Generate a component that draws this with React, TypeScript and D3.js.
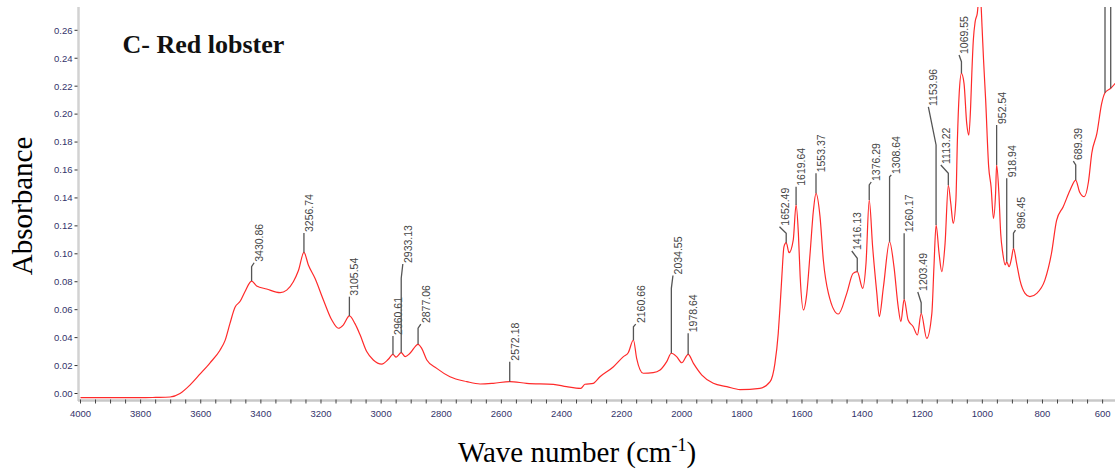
import React from "react";
import * as d3 from "d3";

// FTIR spectrum (wavenumber in cm-1, absorbance)
const waveNumbers = [
  4000, 3900, 3800, 3750, 3702, 3669, 3636, 3602, 3569, 3536, 3519, 3503, 3486, 3469, 3453,
  3430.86, 3414, 3381, 3336, 3314, 3292, 3275, 3256.74, 3242, 3220, 3192, 3164, 3142, 3126,
  3105.54, 3087, 3070, 3048, 3026, 2998, 2976, 2960.61, 2950, 2933.13, 2920, 2904, 2877.06,
  2865, 2848, 2815, 2771, 2715, 2671, 2627, 2572.18, 2516, 2427, 2383, 2336, 2322, 2294, 2272,
  2228, 2194, 2178, 2160.66, 2150, 2128, 2095, 2072, 2050, 2034.55, 2017, 2000, 1978.64, 1961,
  1933, 1895, 1850, 1806, 1740, 1706, 1690, 1679, 1673, 1667, 1660, 1652.49, 1643, 1629,
  1619.64, 1612, 1606, 1595, 1584, 1573, 1562, 1553.37, 1540, 1529, 1512, 1479, 1451, 1430,
  1416.13, 1398, 1387, 1376.29, 1365, 1351, 1343, 1329, 1308.64, 1294, 1280, 1271, 1260.17,
  1247, 1230, 1216, 1203.49, 1185, 1168, 1161, 1153.96, 1144, 1135, 1124, 1113.22, 1105, 1097,
  1088, 1083, 1077, 1069.55, 1061, 1052, 1045, 1039, 1035, 1030, 1024, 1017, 1010, 1005, 1001,
  996, 989, 979, 971, 963, 956, 952.54, 945, 939, 932, 924, 918.94, 911, 903, 896.45, 886, 875,
  858, 842, 819, 792, 770, 753, 731, 708, 689.39, 677, 661, 647, 636, 619, 603, 592, 573, 558,
  550,
];
const absorbance = [
  -0.003, -0.003, -0.003, -0.0028, -0.0025, 0.0, 0.006, 0.014, 0.022, 0.031, 0.038, 0.05,
  0.0617, 0.066, 0.0729, 0.0805, 0.077, 0.0748, 0.0722, 0.074, 0.08, 0.088, 0.101, 0.092,
  0.0825, 0.067, 0.0526, 0.0467, 0.049, 0.0555, 0.05, 0.042, 0.03, 0.024, 0.0211, 0.0245,
  0.028, 0.026, 0.0292, 0.0264, 0.0288, 0.0352, 0.0323, 0.024, 0.018, 0.012, 0.0085, 0.0068,
  0.0073, 0.0085, 0.0073, 0.0066, 0.0049, 0.0037, 0.0066, 0.0073, 0.012, 0.019, 0.0264,
  0.0292, 0.0383, 0.0252, 0.0145, 0.0149, 0.0168, 0.0228, 0.0288, 0.0264, 0.022, 0.028,
  0.0216, 0.0132, 0.0073, 0.0049, 0.0028, 0.0037, 0.0085, 0.0216, 0.043, 0.062, 0.0836,
  0.105, 0.108, 0.1008, 0.11, 0.135, 0.1147, 0.0836, 0.0598, 0.0717, 0.1004, 0.131, 0.1433,
  0.1266, 0.0956, 0.0717, 0.0569, 0.0717, 0.086, 0.0872, 0.0753, 0.0932, 0.1385, 0.105,
  0.0717, 0.055, 0.0764, 0.1087, 0.0908, 0.0621, 0.0514, 0.0674, 0.0526, 0.0478, 0.0419,
  0.0574, 0.0395, 0.0574, 0.0908, 0.1206, 0.1004, 0.0872, 0.1075, 0.149, 0.136, 0.1218,
  0.1385, 0.1815, 0.2149, 0.2292, 0.222, 0.1934, 0.185, 0.2053, 0.2292, 0.253, 0.266, 0.272,
  0.285, 0.28, 0.2626, 0.2387, 0.21, 0.1624, 0.148, 0.1254, 0.1433, 0.1636, 0.1433, 0.1147,
  0.1004, 0.092, 0.0943, 0.0908, 0.0968, 0.1039, 0.0932, 0.0812, 0.0717, 0.0693, 0.0717,
  0.0812, 0.1004, 0.124, 0.1337, 0.1457, 0.1528, 0.1445, 0.1409, 0.1516, 0.172, 0.1862,
  0.2077, 0.2153, 0.2185, 0.222, 0.224,
];

// peak picks: position, text, top of the leader, start of the text, wavenumber where the text sits
const peakWaves = [
  3430.86, 3256.74, 3105.54, 2960.61, 2933.13, 2877.06, 2572.18, 2160.66, 2034.55, 1978.64,
  1652.49, 1619.64, 1553.37, 1416.13, 1376.29, 1308.64, 1260.17, 1203.49, 1153.96, 1113.22,
  1069.55, 952.54, 918.94, 896.45, 689.39, 592, 573,
];
const peakLabels = [
  "3430.86", "3256.74", "3105.54", "2960.61", "2933.13", "2877.06", "2572.18", "2160.66",
  "2034.55", "1978.64", "1652.49", "1619.64", "1553.37", "1416.13", "1376.29", "1308.64",
  "1260.17", "1203.49", "1153.96", "1113.22", "1069.55", "952.54", "918.94", "896.45",
  "689.39", "", "",
];
const peakLeaderTops = [
  0.0908, 0.1149, 0.0693, 0.0412, 0.0825, 0.0467, 0.0228, 0.0478, 0.0753, 0.0431, 0.1147,
  0.148, 0.1576, 0.0968, 0.1493, 0.1552, 0.1147, 0.065, 0.1779, 0.1576, 0.2375, 0.1922, 0.154,
  0.1147, 0.1636, 0.3, 0.3,
];
const peakTextStarts = [
  0.0936, 0.1149, 0.0693, 0.0412, 0.0927, 0.0497, 0.0228, 0.0497, 0.0845, 0.0431, 0.1194,
  0.148, 0.1576, 0.102, 0.1514, 0.1564, 0.1147, 0.0727, 0.2051, 0.1636, 0.2423, 0.1922, 0.154,
  0.117, 0.1664, 0.3, 0.3,
];
const peakTextWaves = [
  3422.5, 3256.74, 3105.54, 2960.61, 2927.8, 2868, 2572.18, 2153, 2029.2, 1978.64, 1674.8,
  1619.64, 1553.37, 1434.4, 1369.6, 1302.9, 1260.17, 1214.8, 1179.6, 1138.2, 1077.5, 952.54,
  918.94, 889.8, 697.4, 592, 573,
];

const xTickValues = [4000, 3800, 3600, 3400, 3200, 3000, 2800, 2600, 2400, 2200, 2000, 1800, 1600, 1400, 1200, 1000, 800, 600];
const yTickValues = [0, 0.02, 0.04, 0.06, 0.08, 0.1, 0.12, 0.14, 0.16, 0.18, 0.2, 0.22, 0.24, 0.26];

const W = 1115;
const H = 470;
const plot = { left: 79, top: 7, bottom: 400 };

const x = d3.scaleLinear().domain([4000, 600]).range([80.5, 1102.6]);
const y = d3.scaleLinear().domain([0, 0.26]).range([393.5, 30.3]);

const points: [number, number][] = waveNumbers.map((w, i) => [w, absorbance[i]]);

// absorbance of the spectrum at a given wavenumber
const valueAt = (w: number) => {
  for (let i = 0; i < waveNumbers.length - 1; i++) {
    const a = waveNumbers[i], b = waveNumbers[i + 1];
    if (w <= a && w >= b) {
      const t = (a - w) / (a - b);
      return absorbance[i] + t * (absorbance[i + 1] - absorbance[i]);
    }
  }
  return absorbance[absorbance.length - 1];
};

const sans = "'Liberation Sans', Arial, sans-serif";
const serif = "'Liberation Serif', 'Times New Roman', serif";

const App = () => {
  const line = d3
    .line<[number, number]>()
    .x((d) => x(d[0]))
    .y((d) => y(d[1]))
    .curve(d3.curveMonotoneX);

  const minorTicks = d3.range(4000, 549, -50);

  return (
    <svg
      width={W}
      height={H}
      style={{ position: "absolute", left: 0, top: 0, background: "#fff" }}
    >
      <defs>
        <clipPath id="plot-clip">
          <rect x={plot.left} y={plot.top} width={W - plot.left} height={plot.bottom - plot.top} />
        </clipPath>
      </defs>

      {/* axes */}
      <line x1={78.5} x2={78.5} y1={plot.top} y2={plot.bottom + 1} stroke="#d2d2d2" strokeWidth={2.5} />
      <line x1={78} x2={W} y1={400.5} y2={400.5} stroke="#c8c8c8" strokeWidth={2.5} />

      {yTickValues.map((v) => (
        <g key={v} transform={`translate(0,${y(v)})`}>
          <line x1={74.5} x2={77.5} stroke="#333" strokeWidth={1} />
          <text x={72.5} dy="0.35em" textAnchor="end" fontFamily={sans} fontSize={9.5} fill="#33336a">
            {v.toFixed(2)}
          </text>
        </g>
      ))}

      {minorTicks.map((v) => (
        <line key={v} x1={x(v)} x2={x(v)} y1={399.5} y2={403.5} stroke="#444" strokeWidth={1} />
      ))}
      {xTickValues.map((v) => (
        <text key={v} x={x(v)} y={416.5} textAnchor="middle" fontFamily={sans} fontSize={9.5} fill="#33336a">
          {v}
        </text>
      ))}

      <g clipPath="url(#plot-clip)">
        <path d={line(points) || ""} fill="none" stroke="#ff2a2a" strokeWidth={1.2} />

        {peakWaves.map((w, i) => {
          const px = x(w);
          const tx = x(peakTextWaves[i]);
          const d = `M${px},${y(valueAt(w))}V${y(peakLeaderTops[i])}L${tx},${y(peakTextStarts[i])}`;
          return (
            <g key={w}>
              <path d={d} fill="none" stroke="#555" strokeWidth={1.3} />
              {peakLabels[i] && (
                <text
                  transform={`translate(${tx + 1.5},${y(peakTextStarts[i]) - 1}) rotate(-90)`}
                  dy="0.72em"
                  fontFamily={sans}
                  fontSize={10.5}
                  fill="#444"
                >
                  {peakLabels[i]}
                </text>
              )}
            </g>
          );
        })}
      </g>

      {/* titles */}
      <text x={122.5} y={53} fontFamily={serif} fontWeight="bold" fontSize={26} fill="#111">
        C- Red lobster
      </text>
      <text
        transform="translate(31.5,206) rotate(-90)"
        textAnchor="middle"
        fontFamily={serif}
        fontSize={29}
        fill="#000"
      >
        Absorbance
      </text>
      <text x={577} y={461.5} textAnchor="middle" fontFamily={serif} fontSize={29} fill="#000">
        Wave number (cm
        <tspan fontSize={18} dy={-11}>-1</tspan>
        <tspan dy={11}>)</tspan>
      </text>
    </svg>
  );
};

export default App;
